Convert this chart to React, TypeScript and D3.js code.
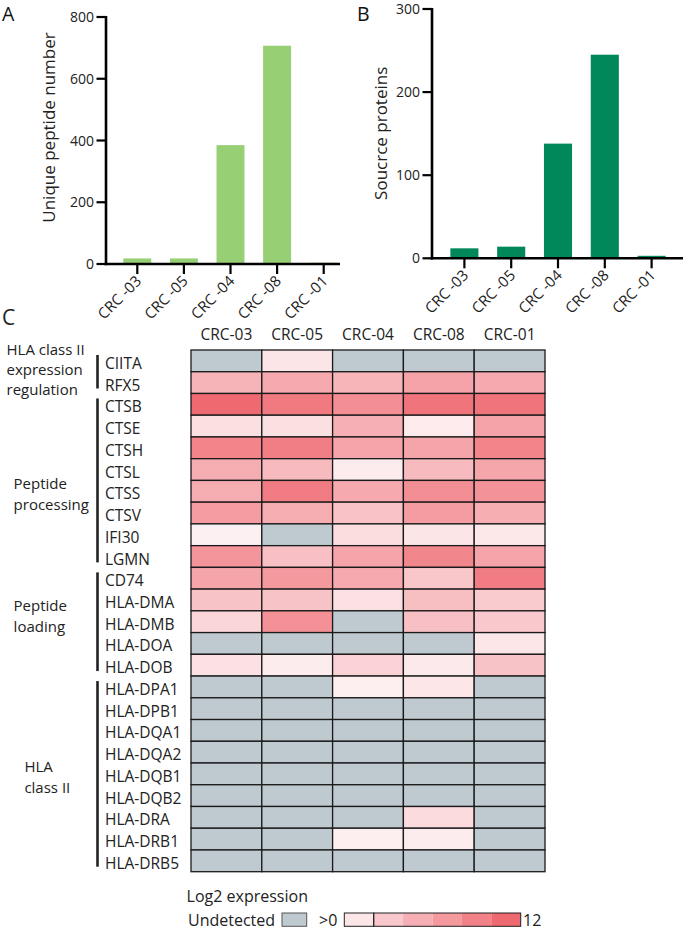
import React from 'react';
import * as d3 from 'd3';

// ---------- data ----------
const samples = ['CRC -03', 'CRC -05', 'CRC -04', 'CRC -08', 'CRC -01'];
const uniquePeptides = [18, 18, 385, 707, 4];
const sourceProteins = [12, 14, 138, 245, 3];
const peptideTicks = [0, 200, 400, 600, 800];
const proteinTicks = [0, 100, 200, 300];

const heatColumns = ['CRC-03', 'CRC-05', 'CRC-04', 'CRC-08', 'CRC-01'];
const genes = [
  'CIITA', 'RFX5',
  'CTSB', 'CTSE', 'CTSH', 'CTSL', 'CTSS', 'CTSV', 'IFI30', 'LGMN',
  'CD74', 'HLA-DMA', 'HLA-DMB', 'HLA-DOA', 'HLA-DOB',
  'HLA-DPA1', 'HLA-DPB1', 'HLA-DQA1', 'HLA-DQA2', 'HLA-DQB1', 'HLA-DQB2', 'HLA-DRA', 'HLA-DRB1', 'HLA-DRB5',
];
const groupLabels = [
  ['HLA class II', 'expression', 'regulation'],
  ['Peptide', 'processing'],
  ['Peptide', 'loading'],
  ['HLA', 'class II'],
];
const groupSizes = [2, 8, 5, 9];

// log2 expression, null = undetected
const expression: (number | null)[][] = [
  [null, 1.1, null, null, null],
  [5.1, 6.0, 5.0, 6.5, 6.0],
  [11.2, 9.8, 8.2, 10.3, 10.3],
  [1.5, 1.5, 5.4, 0.65, 6.5],
  [9.0, 9.5, 6.4, 6.4, 9.0],
  [5.6, 4.6, 0.5, 4.6, 6.2],
  [5.6, 9.7, 6.0, 8.2, 7.8],
  [7.0, 5.6, 3.9, 7.0, 5.55],
  [0.16, null, 1.7, 1.1, 0.9],
  [7.6, 4.1, 6.4, 8.8, 6.4],
  [6.4, 7.2, 5.9, 3.6, 9.6],
  [3.8, 3.8, 1.4, 4.2, 3.2],
  [2.3, 7.9, null, 4.1, 3.4],
  [null, null, null, null, 1.0],
  [1.4, 0.5, 2.7, 0.7, 3.8],
  [null, null, 0.3, 1.0, null],
  [null, null, null, null, null],
  [null, null, null, null, null],
  [null, null, null, null, null],
  [null, null, null, null, null],
  [null, null, null, null, null],
  [null, null, null, 1.9, null],
  [null, null, 0.3, 0.5, null],
  [null, null, null, null, null],
];
const legendSteps = [1, 3.4, 5.4, 7.3, 9.2, 11.2];

// ---------- styles / layout ----------
const FONT = "'Open Sans', 'Noto Sans', sans-serif";
const GREEN_LIGHT = '#97CF74';
const GREEN_DARK = '#00875A';
const GRAY = '#BFCAD0';
const color = d3.scaleLinear<string>().domain([0, 12]).range(['#FDF2F4', '#EE5F67']).clamp(true);

const groupLayout = [
  { x: 6.5, dy: -2, lh: 20 },
  { x: 13.6, dy: 14, lh: 21.7 },
  { x: 13.6, dy: -5, lh: 21 },
  { x: 24.4, dy: 4, lh: 21 },
];

function BarPanel(props: {
  values: number[]; ticks: number[]; max: number; fill: string; label: string;
  axisX: number; axisY: number; topY: number; xEnd: number; bandRange: [number, number];
  letter: string; letterX: number; labelX: number; labelY: number;
}) {
  const { values, ticks, max, fill, label, axisX, axisY, topY, xEnd, bandRange, letter, letterX, labelX, labelY } = props;
  const y = d3.scaleLinear().domain([0, max]).range([axisY, topY]);
  const x = d3.scaleBand<string>().domain(samples).range(bandRange).paddingInner(0.4).paddingOuter(0.2);
  return (
    <g fontFamily={FONT}>
      <text x={letterX} y={21} fontSize={19.5} fill="#111">{letter}</text>
      {samples.map((s, i) => (
        <rect key={s} x={x(s)} y={y(values[i])} width={x.bandwidth()} height={axisY - y(values[i])} fill={fill} />
      ))}
      <line x1={axisX} x2={axisX} y1={topY - 1} y2={axisY + 1.2} stroke="#000" strokeWidth={2.6} />
      <line x1={axisX - 1.2} x2={xEnd} y1={axisY} y2={axisY} stroke="#000" strokeWidth={2.6} />
      {ticks.map((t) => (
        <g key={t}>
          <line x1={axisX - 9.5} x2={axisX} y1={y(t)} y2={y(t)} stroke="#000" strokeWidth={2.2} />
          <text x={axisX - 12} y={y(t) + 5} fontSize={14} textAnchor="end" fill="#222">{t}</text>
        </g>
      ))}
      {samples.map((s) => {
        const cx = (x(s) as number) + x.bandwidth() / 2;
        return (
          <g key={s}>
            <line x1={cx} x2={cx} y1={axisY} y2={axisY + 10} stroke="#000" strokeWidth={2.2} />
            <text transform={`translate(${cx + 5},${axisY + 18}) rotate(-45)`} fontSize={15} textAnchor="end" fill="#222">{s}</text>
          </g>
        );
      })}
      <text transform={`translate(${labelX},${labelY}) rotate(-90)`} fontSize={17} textAnchor="middle" fill="#222">{label}</text>
    </g>
  );
}

export default function App() {
  const hx = d3.scaleBand<string>().domain(heatColumns).range([191, 545]);
  const hy = d3.scaleBand<string>().domain(genes).range([350, 871.7]);
  const rh = hy.bandwidth();

  let start = 0;
  const groups = groupSizes.map((n, gi) => {
    const g = { start, end: start + n - 1, labels: groupLabels[gi], lay: groupLayout[gi] };
    start += n;
    return g;
  });

  const legX = d3.scaleBand<number>().domain(legendSteps).range([344.3, 520.7]);

  return (
    <svg width={685} height={930} style={{ position: 'absolute', left: 0, top: 0, background: '#fff' }}>
      <BarPanel values={uniquePeptides} ticks={peptideTicks} max={800} fill={GREEN_LIGHT}
        label="Unique peptide number" axisX={106} axisY={264} topY={17} xEnd={340}
        bandRange={[114, 347]} letter="A" letterX={2} labelX={55} labelY={127.5} />
      <BarPanel values={sourceProteins} ticks={proteinTicks} max={300} fill={GREEN_DARK}
        label="Soucrce proteins" axisX={432} axisY={258.3} topY={9} xEnd={683}
        bandRange={[441, 675]} letter="B" letterX={357} labelX={386.5} labelY={133.3} />

      <g fontFamily={FONT} fill="#222">
        <text x={2} y={325} fontSize={21}>C</text>
        {heatColumns.map((c) => (
          <text key={c} x={(hx(c) as number) + hx.bandwidth() / 2} y={340} fontSize={15.5} textAnchor="middle">{c}</text>
        ))}
        {genes.map((g, r) => (
          <g key={g}>
            {heatColumns.map((c, ci) => {
              const v = expression[r][ci];
              return (
                <rect key={c} x={hx(c)} y={hy(g)} width={hx.bandwidth()} height={rh}
                  fill={v === null ? GRAY : color(v)} stroke="#1a1a1a" strokeWidth={1.3} />
              );
            })}
            <text x={105} y={(hy(g) as number) + rh / 2 + 8} fontSize={15.5}>{g}</text>
          </g>
        ))}
        {groups.map((g, gi) => {
          const y0 = hy(genes[g.start]) as number;
          const y1 = (hy(genes[g.end]) as number) + rh;
          const mid = (y0 + y1) / 2 + g.lay.dy;
          const n = g.labels.length;
          return (
            <g key={gi}>
              <line x1={97.5} x2={97.5} y1={y0 + 5} y2={y1 - 5} stroke="#222" strokeWidth={2.6} />
              {g.labels.map((t, li) => (
                <text key={li} x={g.lay.x} y={mid + (li - (n - 1) / 2) * g.lay.lh + 5} fontSize={15}>{t}</text>
              ))}
            </g>
          );
        })}

        {/* legend */}
        <text x={186.6} y={901.7} fontSize={16}>Log2 expression</text>
        <text x={188} y={926} fontSize={16}>Undetected</text>
        <rect x={282} y={913} width={24.7} height={13.3} fill={GRAY} stroke="#555" strokeWidth={1} />
        <text x={319} y={926} fontSize={16}>&gt;0</text>
        {legendSteps.map((s) => (
          <rect key={s} x={legX(s)} y={913} width={legX.bandwidth()} height={13.3} fill={color(s)} />
        ))}
        <rect x={344.3} y={913} width={legX.bandwidth()} height={13.3} fill="none" stroke="#222" strokeWidth={1} />
        <rect x={344.3 + legX.bandwidth()} y={913} width={legX.bandwidth() * 5} height={13.3} fill="none" stroke="#222" strokeWidth={1} />
        <text x={523} y={926} fontSize={16}>12</text>
      </g>
    </svg>
  );
}
